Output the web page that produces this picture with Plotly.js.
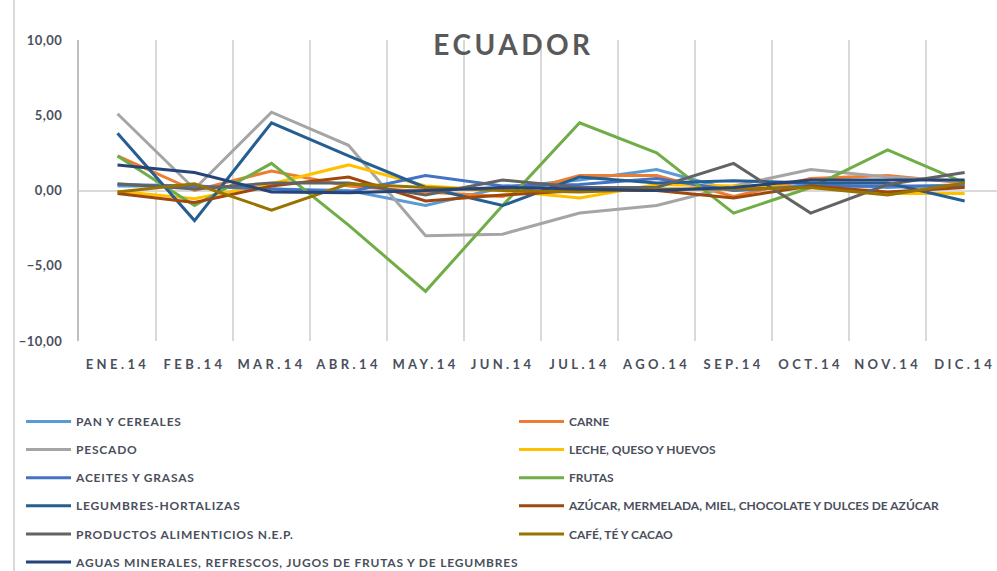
<!DOCTYPE html>
<html>
<head>
<meta charset="utf-8">
<script src="https://cdn.plot.ly/plotly-3.0.1.min.js"></script>
<style>
  html, body { margin: 0; padding: 0; background: #fff; }
  #wrap { position: relative; width: 997px; height: 571px; }
  #chart { width: 997px; height: 571px; }
  #border { position: absolute; left: 13px; top: 0; width: 2px; height: 571px; background: #d9d9d9; z-index: 10; }
  .xtick text { letter-spacing: 3.4px; }
  .ytick text { letter-spacing: 0.5px; }
  .gtitle { letter-spacing: 3.5px; }
  .legendtext { letter-spacing: 0.8px; }
</style>
</head>
<body>
<div id="wrap"><div id="chart"></div><div id="border"></div></div>
<script>
const months = ["ENE.14","FEB.14","MAR.14","ABR.14","MAY.14","JUN.14","JUL.14","AGO.14","SEP.14","OCT.14","NOV.14","DIC.14"];

const panCereales   = [0.3, 0.3, 0.1, 0.0, -1.0, 0.2, 0.7, 1.4, 0.0, 0.4, 0.2, 0.4];
const carne         = [2.3, 0.0, 1.3, 0.3, -0.1, -0.4, 1.0, 1.0, -0.4, 0.8, 1.0, 0.5];
const pescado       = [5.1, 0.1, 5.2, 3.0, -3.0, -2.9, -1.5, -1.0, 0.3, 1.4, 0.9, 0.6];
const leche         = [-0.05, -0.55, 0.45, 1.7, 0.3, 0.0, -0.5, 0.4, 0.3, 0.2, -0.2, -0.2];
const aceites       = [0.4, 0.3, 0.1, -0.1, 1.0, 0.3, 0.4, 0.8, 0.0, 0.3, 0.3, 0.3];
const frutas        = [2.3, -1.0, 1.8, -2.3, -6.7, -1.0, 4.5, 2.5, -1.5, 0.2, 2.7, 0.5];
const legumbres     = [3.8, -2.0, 4.5, 2.3, 0.2, -1.0, 0.9, 0.5, 0.65, 0.5, 0.5, -0.7];
const azucar        = [-0.2, -0.8, 0.3, 0.9, -0.7, -0.3, 0.0, 0.0, -0.5, 0.3, -0.1, 0.2];
const productosNep  = [0.45, 0.1, 0.5, 0.5, -0.3, 0.7, 0.2, 0.2, 1.8, -1.5, 0.4, 1.2];
const cafe          = [-0.1, 0.45, -1.3, 0.45, 0.2, 0.0, -0.1, 0.1, 0.1, 0.2, -0.3, 0.5];
const aguas         = [1.7, 1.2, -0.1, -0.15, 0.0, 0.2, 0.1, 0.0, 0.2, 0.7, 0.7, 0.7];

const seriesNames = [
  "PAN Y CEREALES", "CARNE", "PESCADO", "LECHE, QUESO Y HUEVOS", "ACEITES Y GRASAS", "FRUTAS",
  "LEGUMBRES-HORTALIZAS", "AZÚCAR, MERMELADA, MIEL, CHOCOLATE Y DULCES DE AZÚCAR",
  "PRODUCTOS ALIMENTICIOS N.E.P.", "CAFÉ, TÉ Y CACAO",
  "AGUAS MINERALES, REFRESCOS, JUGOS DE FRUTAS Y DE LEGUMBRES"
];
const seriesValues = [panCereales, carne, pescado, leche, aceites, frutas, legumbres, azucar, productosNep, cafe, aguas];
const seriesColors = ["#5B9BD5", "#ED7D31", "#A5A5A5", "#FFC000", "#4472C4", "#70AD47", "#255E91", "#9E480E", "#636363", "#997300", "#264478"];

const traces = seriesNames.map((name, i) => ({
  type: "scatter",
  mode: "lines",
  name: name,
  x: months,
  y: seriesValues[i],
  line: { color: seriesColors[i], width: 3 },
  legend: (i % 2 === 0) ? "legend" : "legend2",
  legendgroup: "g" + i
}));

const textColor = "#4a4f5c";
const legendStyle = {
  orientation: "v",
  xanchor: "left",
  yanchor: "top",
  yref: "container",
  xref: "container",
  tracegroupgap: 9.1,
  bgcolor: "rgba(0,0,0,0)",
  font: { family: "Lato, 'Open Sans', sans-serif", size: 12, color: textColor, weight: 700 },
  itemwidth: 45,
  traceorder: "grouped"
};

const layout = {
  width: 997,
  height: 571,
  paper_bgcolor: "#ffffff",
  plot_bgcolor: "#ffffff",
  separators: ",.",
  margin: { l: 79, r: 0, t: 40, b: 230, pad: 0, autoexpand: false },
  title: {
    text: "<b>ECUADOR</b>",
    x: 0.515,
    xanchor: "center",
    xref: "container",
    y: 1 - 45 / 571,
    yref: "container",
    yanchor: "middle",
    font: { family: "Lato, 'Open Sans', sans-serif", size: 28, color: "#595959" }
  },
  xaxis: {
    type: "category",
    range: [-0.5, 11.42],
    tickson: "boundaries",
    showgrid: true,
    gridcolor: "#d9d9d9",
    gridwidth: 2,
    showline: false,
    ticks: "",
    tickangle: 0,
    automargin: false,
    ticklabelstandoff: 14,
    tickfont: { family: "Lato, 'Open Sans', sans-serif", size: 13, color: textColor, weight: 700 },
    fixedrange: true
  },
  yaxis: {
    range: [-10, 10],
    dtick: 5,
    tick0: 0,
    tickformat: ".2f",
    showgrid: false,
    zeroline: true,
    zerolinecolor: "#d9d9d9",
    zerolinewidth: 2,
    showline: true,
    linecolor: "#bfbfbf",
    linewidth: 2,
    ticks: "",
    automargin: false,
    ticklabelstandoff: 12,
    tickfont: { family: "Lato, 'Open Sans', sans-serif", size: 13, color: textColor, weight: 700 },
    fixedrange: true
  },
  legend: Object.assign({}, legendStyle, { x: 21 / 997, y: 1 - 407 / 571 }),
  legend2: Object.assign({}, legendStyle, { x: 514 / 997, y: 1 - 407 / 571 }),
  showlegend: true
};

Plotly.newPlot("chart", traces, layout, { displayModeBar: false, staticPlot: true });
</script>
</body>
</html>
